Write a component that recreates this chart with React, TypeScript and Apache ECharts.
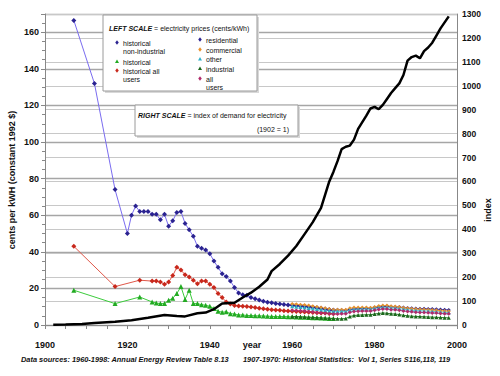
import React, { useEffect, useRef } from "react";
import * as echarts from "echarts";

// ---------- data ----------
const histNonIndYears = [1907, 1912, 1917, 1920, 1921, 1922, 1923, 1924, 1925, 1926, 1927, 1928, 1929, 1930, 1931, 1932, 1933, 1934, 1935, 1936, 1937, 1938, 1939, 1940, 1941, 1942, 1943, 1944, 1945, 1946, 1947, 1948, 1949, 1950, 1951, 1952, 1953, 1954, 1955, 1956, 1957, 1958, 1959, 1960, 1961, 1962, 1963, 1964, 1965, 1966, 1967, 1968, 1969, 1970];
const histNonIndValues = [166.5, 132, 74, 50, 60, 65, 62, 62, 62, 60.5, 60.5, 57.5, 60.5, 54, 57, 61.5, 62, 55.5, 52, 48.5, 43, 42, 41, 39, 35, 31.5, 28, 26.5, 24, 20.5, 17.5, 16.5, 16.3, 15, 14.3, 13.6, 13, 12.5, 12.1, 11.8, 11.5, 11.2, 11, 10.8, 10.6, 10.4, 10.2, 10, 9.7, 9.4, 9.1, 8.8, 8.4, 8.1];

const histYears = [1907, 1917, 1923, 1926, 1927, 1928, 1929, 1930, 1931, 1932, 1933, 1934, 1935, 1936, 1937, 1938, 1939, 1940, 1941, 1942, 1943, 1944, 1945, 1946, 1947, 1948, 1949, 1950, 1951, 1952, 1953, 1954, 1955, 1956, 1957, 1958, 1959, 1960, 1961, 1962, 1963, 1964, 1965, 1966, 1967, 1968, 1969, 1970];
const histAllUsersValues = [43, 21, 24.5, 24, 24, 23.5, 22.3, 23.5, 27, 31.5, 30, 27.5, 26.3, 24.5, 22.6, 24, 24, 22.3, 20.5, 17.2, 15, 12.6, 11.5, 10.6, 10.4, 10.3, 10.1, 9.8, 9.5, 9.2, 8.9, 8.6, 8.4, 8.2, 8, 7.8, 7.6, 7.5, 7.4, 7.3, 7.1, 7, 6.9, 6.7, 6.6, 6.5, 6.3, 6.2];
const histIndustrialValues = [19, 11.7, 15.3, 12.6, 12, 11.7, 11.7, 13.5, 14.6, 17.2, 21, 14, 19, 11.7, 11.7, 11.1, 10.8, 10.2, 9, 7.5, 7, 7.2, 6.2, 6, 5.5, 5.5, 5.2, 5.2, 5, 5, 4.9, 4.8, 4.7, 4.6, 4.6, 4.6, 4.5, 4.5, 4.4, 4.3, 4.2, 4.1, 4, 3.9, 3.8, 3.7, 3.6, 3.6];

const modernYears = [1960, 1961, 1962, 1963, 1964, 1965, 1966, 1967, 1968, 1969, 1970, 1971, 1972, 1973, 1974, 1975, 1976, 1977, 1978, 1979, 1980, 1981, 1982, 1983, 1984, 1985, 1986, 1987, 1988, 1989, 1990, 1991, 1992, 1993, 1994, 1995, 1996, 1997, 1998];
const residentialValues = [10.8, 10.7, 10.5, 10.3, 10, 9.7, 9.4, 9.2, 8.9, 8.6, 8.3, 8.3, 8.2, 8, 8.5, 8.8, 8.9, 9, 9.1, 9.1, 9.5, 9.8, 10.1, 10.2, 10, 9.9, 9.8, 9.5, 9.3, 9.1, 9, 8.9, 8.9, 8.8, 8.7, 8.6, 8.5, 8.4, 8.2];
const commercialValues = [11.5, 11.3, 11.1, 10.9, 10.6, 10.2, 9.8, 9.5, 9.1, 8.7, 8.3, 8.4, 8.4, 8.3, 9.2, 9.5, 9.5, 9.6, 9.5, 9.4, 9.9, 10.4, 10.7, 10.6, 10.2, 10.1, 9.8, 9.4, 9.1, 8.9, 8.7, 8.6, 8.5, 8.4, 8.2, 8, 7.8, 7.7, 7.5];
const otherValues = [10.2, 10, 9.8, 9.6, 9.3, 9, 8.7, 8.4, 8.1, 7.8, 7.5, 7.5, 7.5, 7.4, 8.2, 8.5, 8.6, 8.7, 8.7, 8.6, 9, 9.4, 9.7, 9.6, 9.3, 9.2, 8.9, 8.6, 8.3, 8.1, 7.9, 7.8, 7.7, 7.6, 7.4, 7.3, 7.1, 7, 6.8];
const industrialValues = [4.6, 4.6, 4.5, 4.4, 4.3, 4.2, 4, 3.9, 3.8, 3.7, 3.5, 3.4, 3.4, 3.5, 4.6, 5.2, 5.4, 5.5, 5.6, 5.6, 6, 6.3, 6.6, 6.4, 6.1, 6, 5.7, 5.3, 5, 4.8, 4.7, 4.6, 4.5, 4.4, 4.3, 4.2, 4.1, 4, 3.9];
const allUsersValues = [8, 7.9, 7.8, 7.6, 7.4, 7.1, 6.8, 6.6, 6.4, 6.2, 6, 6, 6.1, 6.1, 7, 7.4, 7.5, 7.6, 7.6, 7.6, 8, 8.5, 8.8, 8.7, 8.4, 8.3, 8.1, 7.7, 7.4, 7.2, 7, 6.9, 6.8, 6.7, 6.6, 6.5, 6.3, 6.2, 6.1];

const indexYears = [1902, 1905, 1909, 1912, 1917, 1921, 1925, 1929, 1932, 1934, 1937, 1939, 1941, 1943, 1945, 1946, 1948, 1950, 1952, 1954, 1955, 1957, 1959, 1961, 1963, 1965, 1967, 1969, 1970, 1971, 1972, 1973, 1974, 1975, 1976, 1978, 1979, 1980, 1981, 1982, 1983, 1984, 1985, 1986, 1987, 1988, 1989, 1990, 1991, 1992, 1993, 1994, 1995, 1996, 1997, 1998];
const indexValues = [1, 2, 4, 8, 14, 20, 30, 42, 38, 36, 49, 52, 66, 90, 92, 93, 115, 135, 160, 190, 225, 255, 290, 330, 380, 430, 490, 600, 640, 685, 735, 745, 750, 775, 820, 875, 905, 912, 902, 920, 945, 970, 990, 1010, 1045, 1105, 1120, 1126, 1115, 1145, 1160, 1180, 1210, 1240, 1265, 1290];

const leftTicks = { min: 0, max: 170, interval: 20 };
const rightTicks = { min: 0, max: 1300, interval: 100 };

const zip = (xs: number[], ys: number[]) => xs.map((x, i) => [x, ys[i]]);

const FONT = "Liberation Sans, Arial, sans-serif";
const plain = (v: number) => String(v);

function priceSeries(name: string, xs: number[], ys: number[], lineColor: string, markerColor: string, symbol: string, size = 5, lineWidth = 1) {
  return {
    name,
    type: "line",
    data: zip(xs, ys),
    yAxisIndex: 0,
    symbol,
    symbolSize: size,
    showSymbol: true,
    lineStyle: { color: lineColor, width: lineWidth },
    itemStyle: { color: markerColor },
    z: 3,
  };
}

function diamond(cx: number, cy: number, r: number, color: string) {
  return {
    type: "polygon",
    shape: { points: [[cx, cy - r], [cx + r * 0.8, cy], [cx, cy + r], [cx - r * 0.8, cy]] },
    style: { fill: color },
    z: 20,
  };
}
function triangle(cx: number, cy: number, r: number, color: string) {
  return {
    type: "polygon",
    shape: { points: [[cx, cy - r], [cx + r, cy + r * 0.8], [cx - r, cy + r * 0.8]] },
    style: { fill: color },
    z: 20,
  };
}
function txt(x: number, y: number, text: string, extra: any = {}) {
  return {
    type: "text",
    x,
    y,
    z: 20,
    style: { text, fill: "#111", font: `7px ${FONT}`, textVerticalAlign: "middle", ...extra },
  };
}

export default function App() {
  const ref = useRef<HTMLDivElement>(null);
  useEffect(() => {
    if (!ref.current) return;
    const chart = echarts.init(ref.current, undefined, { renderer: "svg" });
    const navy = "#2b2390";
    const option: any = {
      animation: false,
      backgroundColor: "#fff",
      grid: { left: 45, right: 43, top: 14, bottom: 51 },
      xAxis: {
        type: "value",
        min: 1900,
        max: 2000,
        interval: 20,
        axisLine: { lineStyle: { color: "#888", width: 1 } },
        axisTick: { show: true, length: 4, lineStyle: { color: "#888" } },
        minorTick: { show: true, splitNumber: 4, length: 4, lineStyle: { color: "#888" } },
        splitLine: { show: false },
        axisLabel: { margin: 15, formatter: plain, fontFamily: FONT, fontSize: 9, fontWeight: "bold", color: "#111" },
      },
      yAxis: [
        {
          type: "value",
          ...leftTicks,
          position: "left",
          axisLine: { show: true, lineStyle: { color: "#888" } },
          axisTick: { show: true, length: 4, lineStyle: { color: "#888" } },
          minorTick: { show: true, splitNumber: 4, length: 3, lineStyle: { color: "#888" } },
          splitLine: { show: true, lineStyle: { color: "#a6a6a6", width: 1.3 } },
          axisLabel: { showMaxLabel: false, margin: 6, formatter: plain, fontFamily: FONT, fontSize: 9, fontWeight: "bold", color: "#111" },
        },
        {
          type: "value",
          ...rightTicks,
          position: "right",
          axisLine: { show: true, lineStyle: { color: "#888" } },
          axisTick: { show: false },
          splitLine: { show: true, lineStyle: { color: "#c8c8c8", width: 1 } },
          axisLabel: { margin: 5, formatter: plain, fontFamily: FONT, fontSize: 8.5, fontWeight: "bold", color: "#111" },
        },
      ],
      series: [
        priceSeries("historical non-industrial", histNonIndYears, histNonIndValues, "#7a6cf0", navy, "diamond", 5),
        priceSeries("historical all users", histYears, histAllUsersValues, "#e0584a", "#c8281c", "diamond", 5),
        priceSeries("historical", histYears, histIndustrialValues, "#3ccc3c", "#22aa22", "triangle", 5),
        priceSeries("residential", modernYears, residentialValues, "#5a50c8", navy, "diamond", 4),
        priceSeries("commercial", modernYears, commercialValues, "#f0a850", "#e8902c", "diamond", 4),
        priceSeries("other", modernYears, otherValues, "#60c8d8", "#30b0c8", "triangle", 4),
        priceSeries("industrial", modernYears, industrialValues, "#2a802a", "#1a661a", "triangle", 4),
        priceSeries("all users", modernYears, allUsersValues, "#c04080", "#b02a6a", "diamond", 4),
        {
          name: "index",
          type: "line",
          yAxisIndex: 1,
          data: zip(indexYears, indexValues),
          showSymbol: false,
          symbol: "none",
          lineStyle: { color: "#000", width: 2.5 },
          z: 5,
        },
      ],
      graphic: [
        // Left scale legend box
        { type: "rect", shape: { x: 105, y: 17, width: 154, height: 76 }, style: { fill: "#d8d8d8" }, z: 18 },
        { type: "rect", shape: { x: 103, y: 15, width: 154, height: 76 }, style: { fill: "#fff", stroke: "#9a9a9a", lineWidth: 1 }, z: 19 },
        {
          type: "text", x: 109, y: 28, z: 20,
          style: { text: "{b|LEFT SCALE} = electricity prices (cents/kWh)", fill: "#111", font: `7px ${FONT}`, textVerticalAlign: "middle",
            rich: { b: { fontStyle: "italic", fontWeight: "bold", fontSize: 7, fontFamily: FONT } } },
        },
        diamond(117, 42.5, 2.2, navy),
        txt(123, 43, "historical"),
        txt(123, 51, "non-industrial"),
        triangle(117, 61.5, 2, "#22aa22"),
        txt(123, 62, "historical"),
        diamond(117, 70.5, 2.2, "#c8281c"),
        txt(123, 71, "historical all"),
        txt(123, 79, "users"),
        diamond(200, 39.5, 2.2, navy),
        txt(206, 40, "residential"),
        diamond(200, 49.5, 2.2, "#e8902c"),
        txt(206, 50, "commercial"),
        triangle(200, 59, 2, "#30b0c8"),
        txt(206, 59, "other"),
        triangle(200, 68.5, 2, "#1a661a"),
        txt(206, 69, "industrial"),
        diamond(200, 78.5, 2.2, "#b02a6a"),
        txt(206, 79, "all"),
        txt(206, 87, "users"),
        // Right scale box
        { type: "rect", shape: { x: 137, y: 107, width: 163, height: 31 }, style: { fill: "#d8d8d8" }, z: 18 },
        { type: "rect", shape: { x: 135, y: 105, width: 163, height: 31 }, style: { fill: "#fff", stroke: "#9a9a9a", lineWidth: 1 }, z: 19 },
        {
          type: "text", x: 138, y: 115, z: 20,
          style: { text: "{b|RIGHT SCALE} = index of demand for electricity", fill: "#111", font: `7px ${FONT}`, textVerticalAlign: "middle",
            rich: { b: { fontStyle: "italic", fontWeight: "bold", fontSize: 7, fontFamily: FONT } } },
        },
        txt(289, 129, "(1902 = 1)", { textAlign: "right" }),
        // Axis names
        {
          type: "text", x: 12, y: 180, rotation: Math.PI / 2, z: 20,
          style: { text: "cents per kWH (constant 1992 $)", fill: "#111", font: `bold 9px ${FONT}`, textAlign: "center", textVerticalAlign: "middle" },
        },
        {
          type: "text", x: 488, y: 210, rotation: Math.PI / 2, z: 20,
          style: { text: "index", fill: "#111", font: `bold 9px ${FONT}`, textAlign: "center", textVerticalAlign: "middle" },
        },
        {
          type: "text", x: 252, y: 345, z: 20,
          style: { text: "year", fill: "#111", font: `bold 9px ${FONT}`, textAlign: "center", textVerticalAlign: "middle" },
        },
        // Sources
        txt(21, 359, "Data sources: 1960-1998: Annual Energy Review Table 8.13", { font: `italic bold 7.4px ${FONT}` }),
        txt(243, 359, "1907-1970: Historical Statistics:  Vol 1, Series S116,118, 119", { font: `italic bold 7.4px ${FONT}` }),
      ],
    };
    chart.setOption(option);
    return () => chart.dispose();
  }, []);
  return <div ref={ref} style={{ width: 500, height: 376, position: "absolute", left: 0, top: 0 }} />;
}
